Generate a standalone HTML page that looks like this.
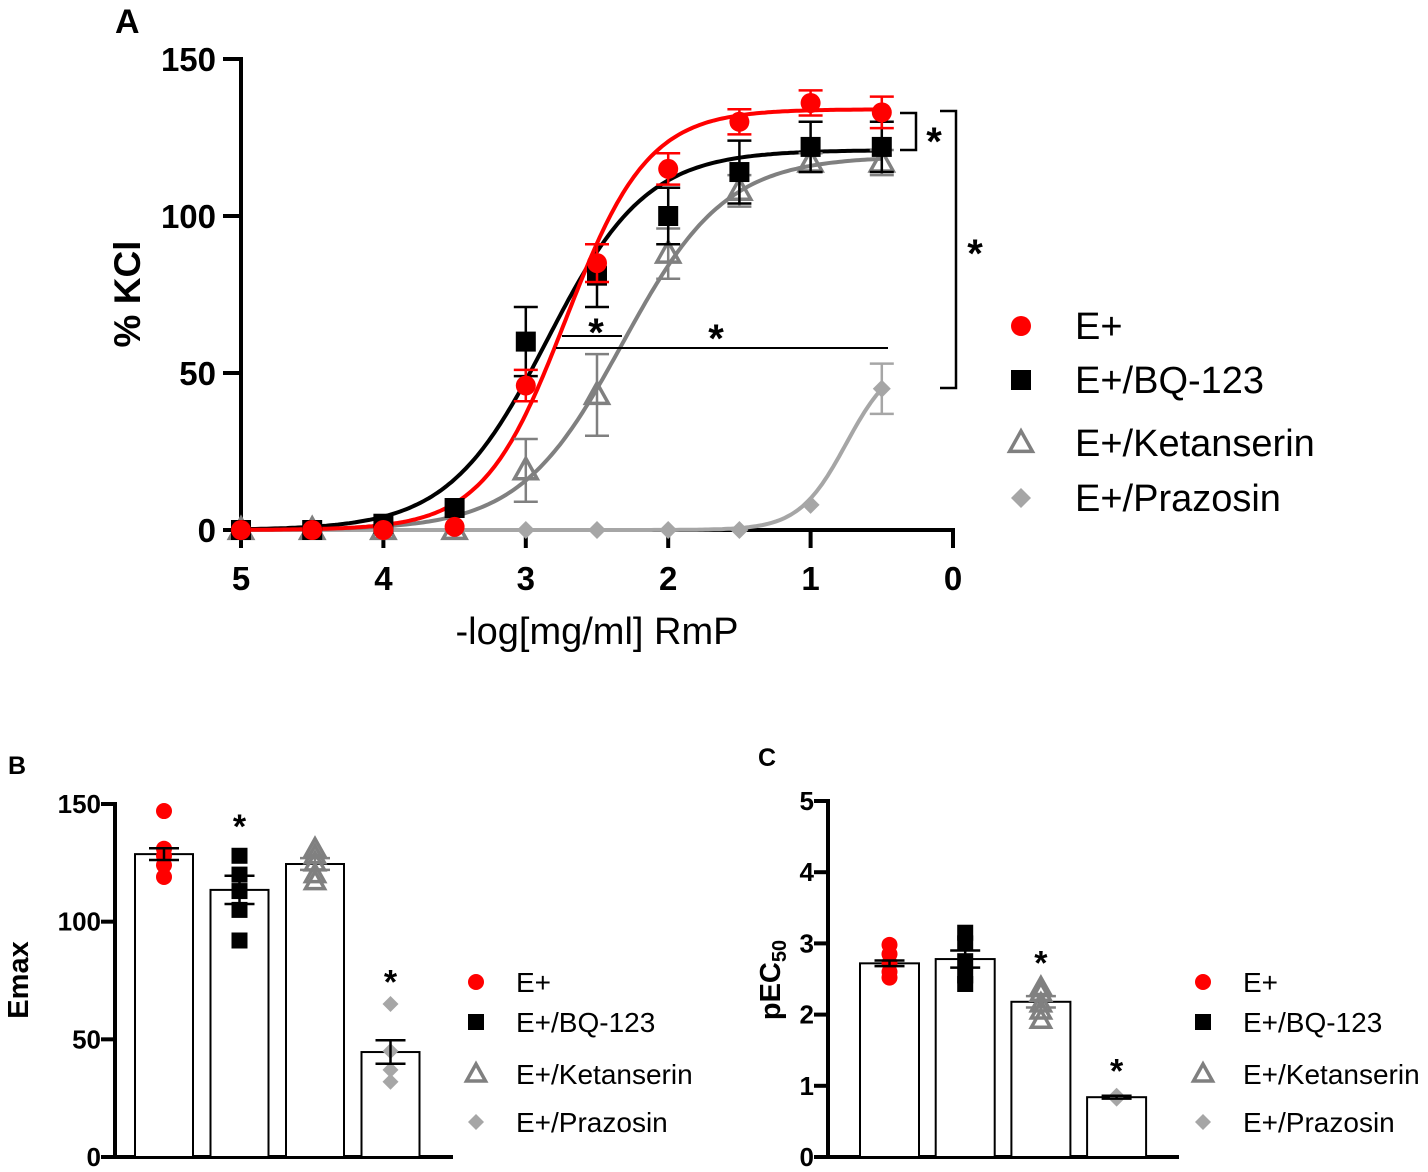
<!DOCTYPE html>
<html><head><meta charset="utf-8"><style>
body{margin:0;background:#fff}
svg{display:block;font-family:"Liberation Sans",Arial,sans-serif}
</style></head><body>
<svg id="s" width="1428" height="1172" viewBox="0 0 1428 1172"></svg>
<script>
// ---------- Panel A data ----------
const xA=[5,4.5,4,3.5,3,2.5,2,1.5,1,0.5];
const eplus=[0,0,0,1,46,85,115,130,136,133];
const eplusErr=[0,0,0,1,5,6,5,4,4,5];
const bq=[0,0,2,7,60,81,100,114,122,122];
const bqErr=[0,0,1,2,11,10,9,10,8,8];
const ket=[0,0,0,0,19,43,88,108,117,117];
const ketErr=[0,0,0,1,10,13,8,5,3,4];
const praz=[0,0,0,0,0,0,0,0,8,45];
const prazErr=[0,0,0,0,0,0,0,0,1,8];
// sigmoid fit params [top, midpoint, hill]
const fitE=[134,2.72,1.5];
const fitB=[121,2.85,1.25];
const fitK=[119,2.32,1.2];
const fitP=[55,0.75,2.6];
const xTicksA=[5,4,3,2,1,0];
const yTicksA=[0,50,100,150];
// ---------- Panel B data ----------
const groups=["E+","E+/BQ-123","E+/Ketanserin","E+/Prazosin"];
const emaxMean=[128.7,113.5,124.5,44.6];
const emaxSem=[2.5,6,2.5,5];
const emaxPts=[[147,131,128,124,119],[128,120,113,105,92],[131,128,125,120,117],[65,45,37,32]];
const yTicksB=[0,50,100,150];
// ---------- Panel C data ----------
const pecMean=[2.72,2.78,2.18,0.84];
const pecSem=[0.04,0.12,0.08,0.02];
const pecPts=[[2.98,2.85,2.72,2.6,2.52],[3.15,3.0,2.75,2.55,2.43],[2.38,2.3,2.15,2.05,1.92],[0.86,0.82]];
const yTicksC=[0,1,2,3,4,5];

const S=document.getElementById('s');const NS="http://www.w3.org/2000/svg";
function el(t,a,txt){const e=document.createElementNS(NS,t);for(const k in a)e.setAttribute(k,a[k]);if(txt!==undefined)e.textContent=txt;S.appendChild(e);return e;}
const cols=["#ff0000","#000000","#808080","#a6a6a6"];

function marker(kind,cx,cy,r,col){let e;
 if(kind===0)e=el('circle',{cx,cy,r,fill:col});
 else if(kind===1)e=el('rect',{x:cx-r,y:cy-r,width:2*r,height:2*r,fill:col});
 else if(kind===2)e=el('path',{d:`M${cx},${cy-r} L${cx+r*0.95},${cy+r*0.7} L${cx-r*0.95},${cy+r*0.7}Z`,fill:'none',stroke:col,'stroke-width':3.5,'stroke-linejoin':'miter'});
 else e=el('path',{d:`M${cx},${cy-r} L${cx+r},${cy} L${cx},${cy+r} L${cx-r},${cy}Z`,fill:col});
 return e;}

// ---------- Panel A ----------
const ax=x=>241+(5-x)*142.4, ay=y=>530-y*3.14;
el('text',{x:115,y:33,'font-size':34,'font-weight':'bold',},'A');
el('line',{x1:241,y1:57,x2:241,y2:532,stroke:'#000','stroke-width':4,});
el('line',{x1:239,y1:530,x2:955,y2:530,stroke:'#000','stroke-width':4,});
yTicksA.forEach(v=>{el('line',{x1:223,y1:ay(v),x2:241,y2:ay(v),stroke:'#000','stroke-width':4});
 const t=el('text',{x:216,y:ay(v)+12,'font-size':33,'font-weight':'bold','text-anchor':'end'},String(v));
 });
xTicksA.forEach(v=>{el('line',{x1:ax(v),y1:530,x2:ax(v),y2:548,stroke:'#000','stroke-width':4});
 const t=el('text',{x:ax(v),y:590,'font-size':33,'font-weight':'bold','text-anchor':'middle'},String(v));
 });
el('text',{x:597,y:644,'font-size':38,'text-anchor':'middle',},'-log[mg/ml] RmP');
el('text',{x:140,y:294,'font-size':37,'font-weight':'bold','text-anchor':'middle',transform:'rotate(-90 140 294)',},'% KCl');

const series=[[eplus,eplusErr,fitE],[bq,bqErr,fitB],[ket,ketErr,fitK],[praz,prazErr,fitP]];
const names=["eplus","bq123","ketanserin","prazosin"];
[3,2,1,0].forEach(i=>{const f=series[i][2];let d="";
 for(let x=5;x>=0.5-1e-9;x-=0.02){const y=f[0]/(1+Math.pow(10,f[2]*(x-f[1])));d+=(d?"L":"M")+ax(x).toFixed(1)+","+ay(y).toFixed(1);}
 const p=el('path',{d,fill:'none',stroke:cols[i],'stroke-width':4});
 });
[3,2,1,0].forEach(i=>{const [v,e]=series[i];
 v.forEach((y,j)=>{if(e[j]>2){const x=ax(xA[j]);
  el('line',{x1:x,y1:ay(y-e[j]),x2:x,y2:ay(y+e[j]),stroke:cols[i],'stroke-width':2.5});
  [y-e[j],y+e[j]].forEach(q=>el('line',{x1:x-12,y1:ay(q),x2:x+12,y2:ay(q),stroke:cols[i],'stroke-width':2.5}));}
  const m=marker(i,ax(xA[j]),ay(y),i===2?12:(i===3?9:10),cols[i]);
  });});
el('path',{d:'M900,113 H916 V150 H900',fill:'none',stroke:'#000','stroke-width':2.5,});
el('text',{x:934,y:155,'font-size':40,'font-weight':'bold','text-anchor':'middle',},'*');
el('path',{d:'M940,111 H956 V388 H940',fill:'none',stroke:'#000','stroke-width':2.5,});
el('text',{x:975,y:267,'font-size':40,'font-weight':'bold','text-anchor':'middle',},'*');
el('line',{x1:562,y1:336,x2:622,y2:336,stroke:'#000','stroke-width':2,});
el('text',{x:596,y:346,'font-size':40,'font-weight':'bold','text-anchor':'middle',},'*');
el('line',{x1:556,y1:348,x2:888,y2:348,stroke:'#000','stroke-width':2,});
el('text',{x:716,y:352,'font-size':40,'font-weight':'bold','text-anchor':'middle',},'*');
const legY=[326,380,443,498];
groups.forEach((g,i)=>{const m=marker(i,1021,legY[i],i===2?12:10,cols[i]);
 
 const t=el('text',{x:1075,y:legY[i]+13,'font-size':38},g);
 });

// ---------- bar panels ----------
function barPanel(o){const by=v=>o.y0-(v/o.max)*(o.y0-o.yTop);
 el('text',{x:o.lx,y:o.ly,'font-size':25,'font-weight':'bold',},o.letter);
 el('line',{x1:o.ax,y1:o.yTop-2,x2:o.ax,y2:o.y0+2,stroke:'#000','stroke-width':4,});
 el('line',{x1:o.ax-14,y1:o.y0,x2:o.xEnd,y2:o.y0,stroke:'#000','stroke-width':4,});
 o.ticks.forEach(v=>{el('line',{x1:o.ax-14,y1:by(v),x2:o.ax,y2:by(v),stroke:'#000','stroke-width':4});
  const t=el('text',{x:o.ax-14,y:by(v)+9,'font-size':o.tf,'font-weight':'bold','text-anchor':'end'},String(v));
  });
 o.mean.forEach((v,i)=>{const x0=o.bx0+i*o.step;
  const r=el('rect',{x:x0,y:by(v),width:o.bw,height:o.y0-by(v),fill:'#fff',stroke:'#000','stroke-width':2});
  
  const cx=x0+o.bw/2;
  o.pts[i].forEach((p,k)=>{const m=marker(i,cx,by(p),i===2?10:8,cols[i]);
   });
  const s=o.sem[i];const ec=i===2?'#808080':'#000';
  el('line',{x1:cx,y1:by(v-s),x2:cx,y2:by(v+s),stroke:ec,'stroke-width':2.5});
  [v-s,v+s].forEach(q=>el('line',{x1:cx-15,y1:by(q),x2:cx+15,y2:by(q),stroke:ec,'stroke-width':2.5}));
  if(o.star[i]){const t=el('text',{x:cx,y:by(o.star[i])+6,'font-size':34,'font-weight':'bold','text-anchor':'middle'},'*');
   }});
 const ly=[982,1022,1074,1122];
 groups.forEach((g,i)=>{const m=marker(i,o.legX,ly[i],i===2?10:8,cols[i]);
  
  const t=el('text',{x:o.legX+40,y:ly[i]+10,'font-size':28},g);
  });
}
barPanel({p:'b',letter:'B',lx:8,ly:774,ax:115,y0:1157,yTop:804,max:150,xEnd:453,ticks:yTicksB,tf:26,bx0:135,bw:58,step:75.5,
 mean:emaxMean,sem:emaxSem,pts:emaxPts,star:[0,138,0,72],legX:476});
el('text',{x:28,y:980,'font-size':29,'font-weight':'bold','text-anchor':'middle',transform:'rotate(-90 28 980)',},'Emax');
barPanel({p:'c',letter:'C',lx:758,ly:766,ax:828,y0:1157,yTop:801,max:5,xEnd:1179,ticks:yTicksC,tf:26,bx0:860,bw:59,step:75.7,
 mean:pecMean,sem:pecSem,pts:pecPts,star:[0,0,2.65,1.13],legX:1203});
const ct=el('text',{x:780,y:980,'font-size':29,'font-weight':'bold','text-anchor':'middle',transform:'rotate(-90 780 980)',});
ct.appendChild(document.createTextNode('pEC'));
const sub=document.createElementNS(NS,'tspan');sub.setAttribute('font-size','20');sub.setAttribute('dy','6');sub.textContent='50';ct.appendChild(sub);
</script>
</body></html>
